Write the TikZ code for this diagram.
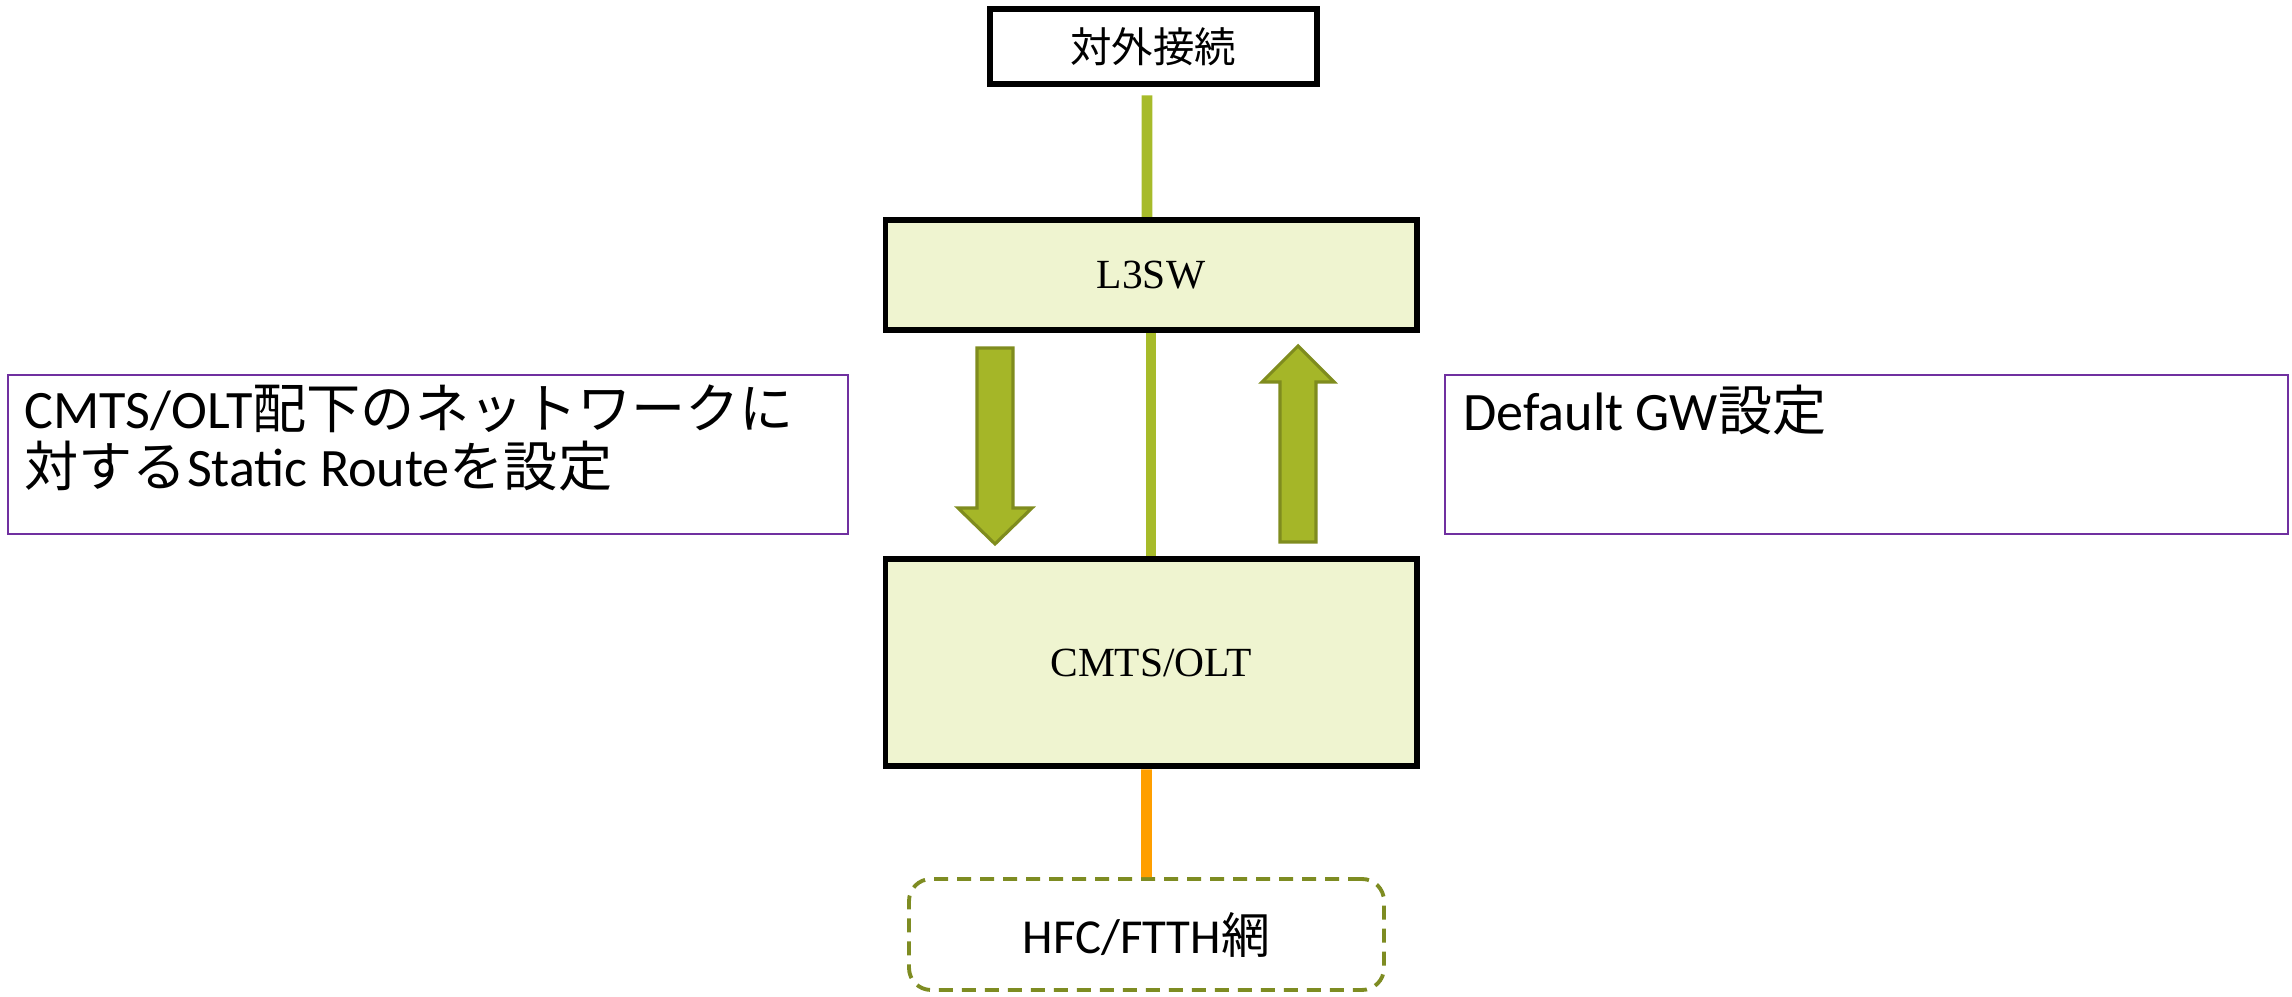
\documentclass[tikz,border=0pt]{standalone}
\usepackage{fontspec}
\setmainfont{Carlito}
\newfontfamily\jpfont{Noto Sans CJK JP}
\newfontfamily\timesfont{Liberation Serif}
\usetikzlibrary{positioning}

\definecolor{boxfill}{HTML}{EFF4D0}
\definecolor{linkgreen}{HTML}{A7BB2A}
\definecolor{arrowfill}{HTML}{A5B628}
\definecolor{arrowedge}{HTML}{7F8C1E}
\definecolor{hfcorange}{HTML}{FF9F00}
\definecolor{hfcedge}{HTML}{7E8C22}
\definecolor{notepurple}{HTML}{7030A0}

\tikzset{
 device/.style={draw=black, line width=1.7pt, fill=boxfill, inner sep=0pt,
  minimum width=5.31cm, font=\timesfont\fontsize{11.8}{14}\selectfont},
 note/.style={draw=notepurple, line width=0.6pt, minimum width=8.40cm, minimum height=1.59cm},
 notetext/.style={align=left, inner sep=0pt, font=\fontsize{15.4}{16.6}\selectfont},
 link/.style={draw=linkgreen, line width=3.1pt},
 fatarrow/.style={fill=arrowfill, draw=arrowedge, line width=0.9pt},
}

\begin{document}
\begin{tikzpicture}
\useasboundingbox (0,0) rectangle (22.92,9.97);

% boxes
\node[draw=black, line width=1.7pt, minimum width=3.27cm, minimum height=0.75cm,
 font=\jpfont\fontsize{11.8}{14}\selectfont] (ext) at (11.53,9.50) {対外接続};
\node[device, minimum height=1.10cm] (l3sw) at (11.51,7.22) {L3SW};
\node[device, minimum height=2.07cm] (cmts) at (11.51,3.34) {CMTS/OLT};
\node[draw=hfcedge, line width=1.1pt, dash pattern=on 0.14cm off 0.09cm,
 rounded corners=0.22cm, minimum width=4.75cm, minimum height=1.11cm,
 font=\fontsize{13.9}{16}\selectfont] (hfc) at (11.465,0.625) {HFC/FTTH{\jpfont 網}};

% notes
\node[note] (leftbox) at (4.28,5.425) {};
\node[notetext, below right=0.10cm and 0.17cm of leftbox.north west] (lefttxt)
 {CMTS/OLT{\jpfont 配下のネットワークに}\\{\jpfont 対する}Static Route{\jpfont を設定}};
\node[note, minimum width=8.43cm] (rightbox) at (18.665,5.425) {};
\node[notetext, below right=0.10cm and 0.19cm of rightbox.north west] (righttxt)
 {Default GW{\jpfont 設定}};

% links
\draw[link] ([xshift=-0.06cm,yshift=-0.08cm]ext.south) -- ([xshift=-0.04cm]l3sw.north);
\draw[link] (l3sw.south) -- (cmts.north);
\draw[draw=hfcorange, line width=3.1pt] ([xshift=-0.045cm]cmts.south) -- (hfc.north);

% route arrows
\draw[fatarrow] (9.77,6.49) -- (10.13,6.49) -- (10.13,4.89) -- (10.32,4.89)
 -- (9.95,4.53) -- (9.58,4.89) -- (9.77,4.89) -- cycle;
\draw[fatarrow] (12.80,4.55) -- (13.16,4.55) -- (13.16,6.15) -- (13.34,6.15)
 -- (12.98,6.51) -- (12.62,6.15) -- (12.80,6.15) -- cycle;
\end{tikzpicture}
\end{document}
